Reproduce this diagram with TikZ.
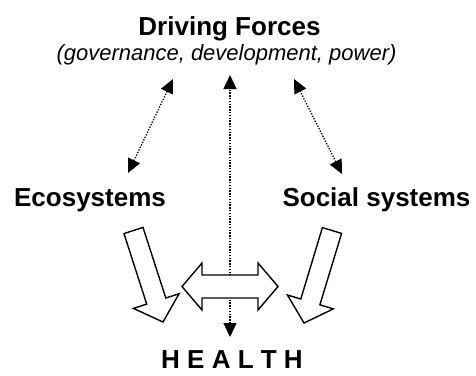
\documentclass[tikz,border=0pt]{standalone}
\usepackage{fontspec}
\setmainfont{Liberation Sans}
\usetikzlibrary{arrows.meta}

\begin{document}
\begin{tikzpicture}[
  x=1pt, y=-1pt,
  title/.style={font=\fontsize{26}{30}\selectfont\bfseries, anchor=base, inner sep=0pt},
  subtitle/.style={font=\fontsize{22}{26}\selectfont\itshape, anchor=base, inner sep=0pt},
  link/.style={line width=1.3pt, dash pattern=on 1.3pt off 1.5pt,
    {Triangle[length=14pt,width=13pt]}-{Triangle[length=14pt,width=13pt]}},
  fatarrow/.style={draw, line width=1.4pt, fill=white, line join=miter},
]
\useasboundingbox (0,0) rectangle (476,375);

\node[title] (df) at (229.5,35) {Driving Forces};
\node[subtitle] (dfsub) at (226.5,60) {(governance, development, power)};
\node[title] (eco) at (90,206) {Ecosystems};
\node[title] (soc) at (376.5,206) {Social systems};
\node[title] (health) at (232,368) {H E A L T H};

\coordinate (dfl) at (173,79);
\coordinate (dfm) at (230,75);
\coordinate (dfr) at (294,79);
\coordinate (ecoin) at (128,173);
\coordinate (socin) at (342,174);
\coordinate (hin) at (230,337);

\draw[link] (ecoin) -- (dfl);
\draw[link] (socin) -- (dfr);
\draw[link] (hin) -- (dfm);

\draw[fatarrow] (124,233.6) -- (143,227.4) -- (165.8,298) -- (179.1,293.7)
  -- (163,322) -- (133.4,308.4) -- (146.7,304.1) -- cycle;
\draw[fatarrow] (341.6,233.4) -- (322.4,227.6) -- (300.8,299) -- (287.4,295)
  -- (304,323) -- (333.3,308.9) -- (319.9,304.8) -- cycle;
\draw[fatarrow] (182,286.5) -- (202,263) -- (202,275) -- (258,275) -- (258,263)
  -- (278,286.5) -- (258,310) -- (258,298) -- (202,298) -- (202,310) -- cycle;
\end{tikzpicture}
\end{document}
